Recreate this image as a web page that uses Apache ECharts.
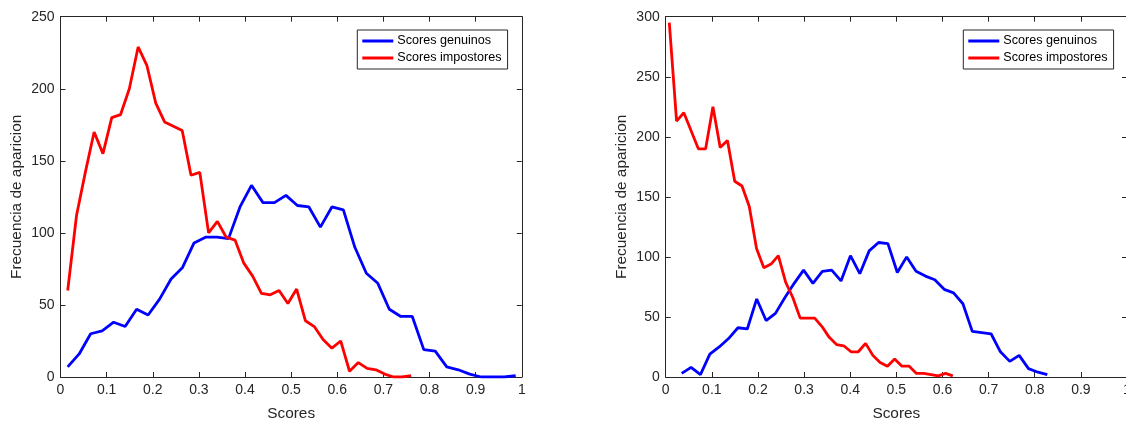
<!DOCTYPE html>
<html>
<head>
<meta charset="utf-8">
<script src="https://cdn.jsdelivr.net/npm/echarts@6/dist/echarts.min.js"></script>
<style>
html,body{margin:0;padding:0;background:#fff;overflow:hidden;width:1126px;height:426px;}
#c{width:1150px;height:426px;}
</style>
</head>
<body>
<div id="c"></div>
<script>
// ---- data ----
const seriesNames = ['Scores genuinos', 'Scores impostores'];
const xTicks = [0, 0.1, 0.2, 0.3, 0.4, 0.5, 0.6, 0.7, 0.8, 0.9, 1];
const leftYTicks = [0, 50, 100, 150, 200, 250];
const rightYTicks = [0, 50, 100, 150, 200, 250, 300];

// Left chart
const leftGenX = [0.0156,0.0405,0.0654,0.0903,0.1152,0.1401,0.1650,0.1899,0.2148,0.2397,0.2646,0.2895,0.3144,0.3393,0.3642,0.3891,0.4140,0.4389,0.4638,0.4887,0.5136,0.5385,0.5634,0.5883,0.6132,0.6381,0.6630,0.6879,0.7128,0.7377,0.7626,0.7875,0.8124,0.8373,0.8622,0.8871,0.9120,0.9369,0.9618,0.9867];
const leftGenY = [7,16,30,32,38,35,47,43,54,68,76,93,97,97,96,118,133,121,121,126,119,118,104,118,116,90,72,65,47,42,42,19,18,7,5,2,0,0,0,1];
const leftImpX = [0.0156,0.0347,0.0538,0.0729,0.0920,0.1111,0.1301,0.1492,0.1683,0.1874,0.2065,0.2256,0.2447,0.2638,0.2829,0.3020,0.3210,0.3401,0.3592,0.3783,0.3974,0.4165,0.4356,0.4547,0.4738,0.4929,0.5119,0.5310,0.5501,0.5692,0.5883,0.6074,0.6265,0.6456,0.6647,0.6838,0.7028,0.7219,0.7410,0.7601];
const leftImpY = [60,112,142,170,155,180,182,200,229,216,190,177,174,171,140,142,100,108,97,95,79,70,58,57,60,51,61,39,35,26,20,25,4,10,6,5,2,0,0,1];

// Right chart
const rightGenX = [0.0347,0.0550,0.0753,0.0957,0.1160,0.1363,0.1566,0.1769,0.1973,0.2176,0.2379,0.2582,0.2785,0.2989,0.3192,0.3395,0.3598,0.3801,0.4005,0.4208,0.4411,0.4614,0.4817,0.5021,0.5224,0.5427,0.5630,0.5833,0.6037,0.6240,0.6443,0.6646,0.6849,0.7053,0.7256,0.7459,0.7662,0.7865,0.8069,0.8272];
const rightGenY = [3,8,2,19,25,32,41,40,65,47,53,66,78,89,78,88,89,80,101,86,105,112,111,87,100,88,84,81,73,70,61,38,37,36,21,13,18,7,4,2];
const rightImpX = [0.0078,0.0236,0.0393,0.0551,0.0708,0.0866,0.1024,0.1181,0.1339,0.1496,0.1654,0.1812,0.1969,0.2127,0.2284,0.2442,0.2600,0.2757,0.2915,0.3072,0.3230,0.3388,0.3545,0.3703,0.3860,0.4018,0.4176,0.4333,0.4491,0.4648,0.4806,0.4964,0.5121,0.5279,0.5436,0.5594,0.5752,0.5909,0.6067,0.6224];
const rightImpY = [295,213,220,205,190,190,225,191,197,163,159,142,107,91,94,101,79,66,49,49,49,42,33,27,26,21,21,28,18,12,9,15,9,9,3,3,2,1,3,1];

// ---- build ----
const FONT = 'Liberation Sans, Arial, Helvetica, sans-serif';
const AX = '#262626';
const pairs = (xs, ys) => xs.map((x, i) => [x, ys[i]]);

function xAxisPair(grid) {
  const base = {
    type: 'value', gridIndex: grid, min: xTicks[0], max: xTicks[xTicks.length - 1],
    interval: xTicks[1] - xTicks[0], splitLine: { show: false },
    axisLine: { show: true, onZero: false, lineStyle: { color: AX, width: 1 } },
    axisTick: { show: true, inside: true, length: 5, lineStyle: { color: AX } }
  };
  return [
    Object.assign({}, base, {
      position: 'bottom', name: 'Scores', nameLocation: 'middle', nameGap: 29,
      nameTextStyle: { fontFamily: FONT, fontSize: 15.4, color: AX },
      axisLabel: { show: true, margin: 6, fontFamily: FONT, fontSize: 14, color: AX }
    }),
    Object.assign({}, base, { position: 'top', axisLabel: { show: false } })
  ];
}
function yAxisPair(grid, ticks) {
  const base = {
    type: 'value', gridIndex: grid, min: ticks[0], max: ticks[ticks.length - 1],
    interval: ticks[1] - ticks[0], splitLine: { show: false },
    axisLine: { show: true, onZero: false, lineStyle: { color: AX, width: 1 } },
    axisTick: { show: true, inside: true, length: 5, lineStyle: { color: AX } }
  };
  return [
    Object.assign({}, base, {
      position: 'left', name: 'Frecuencia de aparicion', nameLocation: 'middle', nameGap: 36,
      nameTextStyle: { fontFamily: FONT, fontSize: 15.4, color: AX },
      axisLabel: { show: true, margin: 6, fontFamily: FONT, fontSize: 14, color: AX }
    }),
    Object.assign({}, base, { position: 'right', axisLabel: { show: false } })
  ];
}
function legendAt(left) {
  return {
    orient: 'vertical', left: left, top: 30, data: seriesNames,
    icon: 'rect', itemWidth: 31, itemHeight: 3, itemGap: 3,
    padding: [4, 6, 4, 5], borderColor: AX, borderWidth: 1, backgroundColor: '#fff',
    borderRadius: 0, selectedMode: false,
    textStyle: { fontFamily: FONT, fontSize: 12.6, color: '#000', lineHeight: 14, padding: [0, 0, 0, -1] }
  };
}
function line(name, data, color, xi, yi) {
  return {
    type: 'line', name: name, data: data, xAxisIndex: xi, yAxisIndex: yi,
    symbol: 'none', showSymbol: false, animation: false,
    lineStyle: { color: color, width: 2.8 }, itemStyle: { color: color }
  };
}

const chart = echarts.init(document.getElementById('c'), null, { renderer: 'canvas' });
chart.setOption({
  animation: false,
  backgroundColor: '#fff',
  grid: [
    { left: 60.5, top: 16.7, width: 461.3, height: 364.6 },
    { left: 665.7, top: 16.7, width: 461.3, height: 364.6 }
  ],
  xAxis: [].concat(xAxisPair(0), xAxisPair(1)),
  yAxis: [].concat(yAxisPair(0, leftYTicks), yAxisPair(1, rightYTicks)),
  legend: [legendAt(357.3), legendAt(963.3)],
  series: [
    line(seriesNames[0], pairs(leftGenX, leftGenY), '#0000ff', 0, 0),
    line(seriesNames[1], pairs(leftImpX, leftImpY), '#ff0000', 0, 0),
    line(seriesNames[0], pairs(rightGenX, rightGenY), '#0000ff', 2, 2),
    line(seriesNames[1], pairs(rightImpX, rightImpY), '#ff0000', 2, 2)
  ]
});
</script>
</body>
</html>
